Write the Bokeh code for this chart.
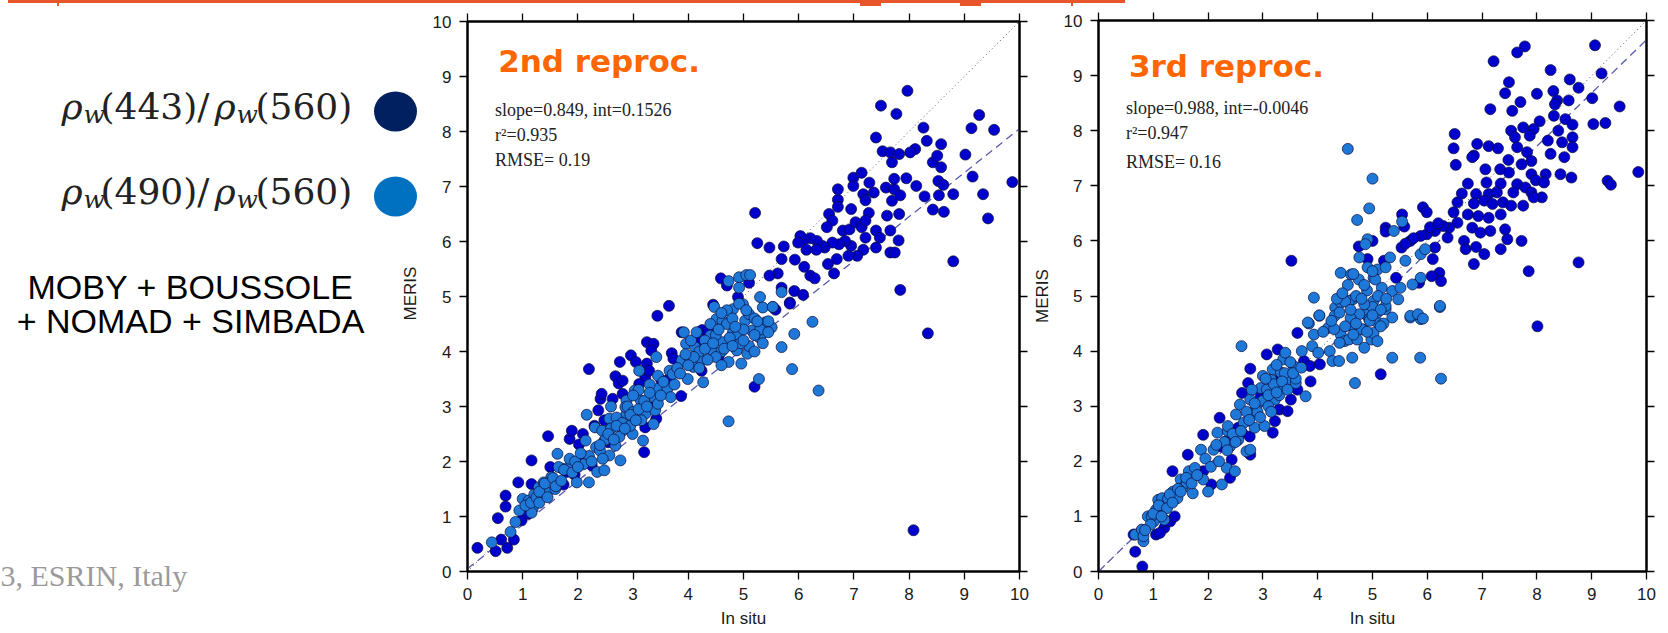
import math
from bokeh.plotting import figure
from bokeh.layouts import column, row
from bokeh.models import LinearAxis, FixedTicker, Label, Range1d, Div
from bokeh.embed import file_html
from bokeh.resources import INLINE
from bokeh.core.properties import value

# ---------------- data ----------------
ticks = list(range(0, 11))
tick_labels = [str(t) for t in ticks]
x_title = "In situ"
y_title = "MERIS"

panel_titles = ["2nd reproc.", "3rd reproc."]
stats_left = ["slope=0.849, int=0.1526", "r\u00b2=0.935", "RMSE= 0.19"]
stats_right = ["slope=0.988, int=-0.0046", "r\u00b2=0.947", "RMSE= 0.16"]

fit_left_x = [0.0, 10.0]
fit_left_y = [0.05, 8.05]
fit_right_x = [0.0, 10.0]
fit_right_y = [0.0, 9.65]
one_to_one = [0.0, 10.0]

legend_labels = [("(443)/", "(560)"), ("(490)/", "(560)")]
sites_lines = ["MOBY + BOUSSOLE", "+ NOMAD + SIMBADA"]
footer_text = "3, ESRIN, Italy"

# 2nd reprocessing: rho_w(443)/rho_w(560)
l_dark_x = [7.97, 7.49, 7.77, 7.40, 8.26, 8.32, 8.58, 9.27, 9.13, 9.54, 9.02, 9.15, 9.34, 9.43, 9.87,
            8.80, 8.80, 7.84, 8.43, 8.63, 8.28, 8.54, 8.53, 8.62, 8.43, 8.51, 8.58, 8.11, 8.02, 7.95,
            8.13, 7.52, 7.69, 7.66, 7.82, 6.99, 7.14, 7.28, 6.99, 7.17, 7.36, 7.58, 7.73, 7.69, 7.84,
            7.73, 7.21, 6.71, 6.71, 6.71, 6.95, 6.55, 6.61, 6.51, 6.80, 6.92, 7.03, 7.14, 7.27, 7.21,
            7.40, 7.47, 7.60, 7.82, 7.66, 7.81, 7.66, 7.74, 7.40, 7.21, 7.17, 7.06, 6.90, 6.95, 6.84,
            6.73, 6.61, 6.47, 6.69, 6.53, 6.64, 6.43, 6.33, 6.21, 6.10, 6.03, 5.99, 6.14, 6.32, 5.93,
            6.10, 6.21, 6.29, 5.73, 5.69, 5.47, 5.25, 5.21, 5.62, 5.47, 5.69, 5.92, 6.08, 5.84, 5.10,
            4.59, 4.90, 3.44, 3.65, 8.34, 8.08, 5.20, 3.87, 2.20, 3.20, 1.46, 1.16, 0.92, 0.69, 0.69,
            0.55, 0.18, 0.51, 0.72, 0.61, 0.84, 0.98, 1.09, 1.16, 1.74, 1.85, 1.89, 1.80, 1.94, 2.02,
            2.09, 2.25, 2.37, 2.41, 2.43, 2.48, 2.63, 2.68, 2.76, 2.74, 2.81, 2.81, 2.96, 3.05, 3.25,
            3.37, 3.33, 3.25, 3.22, 3.11, 3.29, 3.22, 3.42, 3.35, 3.51, 3.65, 3.70, 3.73, 3.88, 4.25,
            4.36, 4.18, 4.55, 4.24, 5.58, 5.84, 1.25, 1.35, 1.50, 2.10, 2.30, 2.55, 4.45, 4.70]
l_dark_y = [8.74, 8.47, 8.32, 7.89, 8.07, 7.83, 7.77, 8.30, 8.06, 8.03, 7.58, 7.18, 6.86, 6.42, 7.08,
            6.86, 5.64, 5.12, 6.58, 6.54, 6.82, 6.84, 7.10, 7.03, 7.44, 7.56, 7.35, 7.68, 7.62, 7.15,
            7.01, 7.64, 7.44, 7.62, 7.59, 7.16, 7.25, 7.07, 7.01, 6.86, 6.89, 6.98, 6.95, 6.74, 6.84,
            7.14, 6.75, 6.95, 6.76, 6.63, 6.59, 6.50, 6.38, 6.26, 6.20, 6.22, 6.35, 6.26, 6.52, 6.38,
            6.20, 6.07, 6.47, 6.50, 6.20, 6.02, 5.80, 5.80, 5.89, 6.07, 5.85, 5.74, 5.74, 5.92, 6.01,
            5.95, 5.98, 5.89, 5.68, 5.59, 5.42, 5.92, 6.01, 6.06, 6.04, 6.10, 5.98, 5.85, 5.85, 5.67,
            5.54, 5.38, 5.33, 5.91, 5.68, 5.89, 5.97, 6.52, 5.42, 5.38, 5.16, 5.10, 5.03, 4.89, 5.25,
            5.33, 4.99, 4.65, 4.83, 4.33, 0.75, 3.36, 3.19, 3.68, 2.17, 2.46, 2.02, 1.62, 1.38, 1.18,
            0.97, 0.43, 0.37, 0.43, 0.58, 0.58, 0.93, 1.05, 1.59, 1.58, 2.41, 2.56, 1.81, 1.76, 2.31,
            2.50, 1.93, 2.93, 3.14, 3.23, 2.75, 3.14, 3.55, 3.81, 3.42, 3.47, 3.23, 3.93, 3.81, 4.17,
            4.14, 4.02, 3.78, 3.53, 3.41, 3.65, 2.62, 2.78, 2.99, 3.48, 3.50, 3.97, 3.87, 4.35, 4.39,
            4.37, 4.20, 3.91, 3.65, 4.76, 4.87, 1.25, 1.55, 1.90, 2.10, 2.65, 2.35, 4.85, 5.20]

# 2nd reprocessing: rho_w(490)/rho_w(560)
l_light_x = [4.73, 4.92, 5.05, 5.12, 4.92, 5.30, 5.53, 5.69, 6.25, 5.35, 4.99, 4.81, 4.55, 0.44, 0.78,
             0.87, 0.94, 1.00, 1.18, 1.16, 1.11, 1.21, 1.29, 1.38, 1.44, 1.52, 1.59, 1.63, 1.72, 1.87,
             1.98, 2.20, 2.14, 2.16, 2.31, 2.33, 2.35, 2.48, 2.48, 2.44, 2.57, 2.57, 2.68, 2.77, 2.81,
             2.88, 2.88, 2.86, 2.99, 2.99, 3.03, 3.14, 3.22, 3.18, 3.37, 3.38, 3.40, 3.44, 3.45, 3.42,
             3.11, 3.62, 3.68, 3.66, 3.72, 3.88, 3.96, 3.92, 3.99, 4.03, 4.09, 4.27, 4.34, 4.40, 4.51,
             4.62, 4.73, 4.73, 4.81, 4.88, 4.96, 5.03, 5.07, 5.10, 5.15, 5.28, 5.28, 5.34, 5.40, 5.51,
             5.53, 5.69, 5.88, 5.92, 6.36, 4.47, 4.70, 4.92, 4.12, 4.44, 4.25, 4.62, 4.85,
             4.20, 4.30, 4.50, 4.60, 4.70, 4.90, 5.00, 5.10, 5.20, 4.40, 4.60, 4.80, 5.30, 4.10, 4.50,
             4.95, 4.35, 5.45, 5.20, 4.75, 3.80, 4.00,
             2.60, 2.70, 2.80, 2.90, 3.00, 3.10, 3.20, 2.50, 2.60, 3.30, 3.00, 2.75, 2.95, 3.15, 3.45,
             2.40, 2.20, 2.10,
             1.05, 1.15, 1.25, 1.30, 1.40, 1.55, 1.65, 1.75, 1.85, 1.95,
             1.30, 1.45, 1.60, 1.70, 1.90, 2.00, 2.05, 2.25, 2.40, 2.45, 2.55, 2.65, 2.70, 2.85, 2.95,
             3.05, 3.10, 3.25, 3.30, 3.50, 3.55, 3.75, 3.85, 3.95, 4.05, 4.15, 4.30, 4.45, 4.55, 4.65,
             4.80, 4.85, 5.00, 5.05, 5.20, 5.25, 5.35, 5.45, 4.20, 4.60]
l_light_y = [5.28, 5.35, 5.39, 5.39, 5.16, 4.99, 4.81, 5.08, 4.54, 4.80, 4.86, 4.77, 4.59, 0.53, 0.72,
             0.90, 1.11, 1.32, 1.14, 1.07, 1.29, 1.40, 1.53, 1.62, 1.44, 1.72, 1.50, 2.14, 1.87, 1.96,
             1.62, 1.62, 2.38, 2.85, 2.62, 2.26, 1.81, 1.84, 2.38, 2.56, 2.78, 2.11, 2.29, 2.02, 2.56,
             2.87, 3.11, 2.99, 2.78, 2.50, 3.29, 3.11, 2.87, 2.38, 2.68, 3.17, 2.93, 3.32, 3.56, 3.90,
             3.65, 3.32, 3.17, 3.65, 3.59, 3.84, 4.14, 4.35, 3.50, 3.81, 3.72, 3.44, 4.08, 4.29, 4.59,
             4.17, 3.81, 2.73, 4.35, 4.02, 3.78, 4.56, 3.96, 4.68, 4.38, 4.26, 3.50, 4.33, 4.53, 4.44,
             4.81, 4.08, 3.68, 4.32, 3.29, 4.81, 4.75, 4.87, 4.08, 4.02, 3.84, 4.56, 4.20,
             4.00, 4.20, 4.30, 4.00, 4.50, 4.30, 4.40, 4.10, 4.60, 4.50, 4.70, 4.60, 4.40, 3.90, 3.90,
             4.15, 3.85, 4.55, 4.00, 4.25, 3.70, 3.75,
             2.60, 2.80, 2.70, 3.00, 2.90, 3.30, 3.10, 2.40, 3.00, 3.40, 3.20, 2.45, 2.65, 2.75, 3.05,
             2.20, 2.10, 1.95,
             1.20, 1.25, 1.35, 1.45, 1.60, 1.70, 1.90, 1.85, 2.05, 2.00,
             1.25, 1.35, 1.55, 1.65, 1.80, 1.90, 2.15, 2.00, 2.30, 2.05, 2.50, 2.40, 2.65, 2.60, 2.85,
             2.75, 2.95, 3.00, 3.25, 3.20, 3.45, 3.40, 3.60, 3.95, 4.20, 4.35, 4.05, 4.15, 4.40, 4.05,
             4.10, 4.45, 4.20, 4.75, 4.30, 4.55, 4.15, 4.35, 3.70, 3.75]

# 3rd reprocessing: rho_w(443)/rho_w(560)
r_dark_x = [9.06, 7.78, 7.64, 7.21, 8.25, 9.18, 8.60, 7.49, 8.76, 7.42, 8.00, 8.30, 8.37, 7.70, 8.58,
            8.33, 9.01, 9.51, 7.15, 7.55, 8.31, 8.05, 8.52, 9.03, 9.25, 8.65, 7.75, 7.53, 7.94, 7.60,
            7.87, 6.50, 6.91, 7.12, 7.29, 6.48, 7.64, 7.82, 8.20, 8.39, 8.46, 8.65, 8.65, 6.85, 6.82,
            8.50, 8.25, 6.52, 7.48, 7.72, 7.90, 7.06, 7.33, 7.49, 7.90, 8.16, 8.43, 8.63, 7.98, 8.13,
            9.85, 9.29, 9.35, 6.74, 7.08, 7.34, 7.64, 7.79, 6.63, 6.89, 7.12, 7.27, 7.57, 7.90, 8.09,
            7.94, 6.55, 6.85, 7.04, 7.19, 7.38, 7.53, 7.75, 6.48, 6.74, 6.93, 7.12, 7.34, 6.55, 6.82,
            6.97, 7.15, 7.42, 6.40, 6.14, 6.29, 5.99, 5.88, 6.37, 6.67, 6.70, 6.89, 7.04, 6.85, 7.34,
            7.46, 7.72, 8.76, 7.85, 8.01, 5.69, 5.53, 6.14, 6.10, 6.22, 6.25, 6.08, 5.85, 5.92, 5.99,
            5.54, 5.58, 5.24, 5.24, 3.52, 4.91, 5.21, 5.43,
            0.80, 0.67, 0.64, 1.05, 1.20, 1.31, 1.39, 1.35, 1.63, 1.91, 1.91, 2.06, 2.21, 2.40, 2.43,
            2.62, 2.76, 2.77, 2.73, 2.77, 3.07, 3.27, 3.18, 3.22, 3.30, 3.45, 3.51, 3.63, 3.63, 3.75,
            3.86, 3.87, 4.04, 5.15, 2.62, 2.96, 3.33, 2.23, 2.32, 2.55, 1.03, 1.12, 1.24,
            5.60, 5.75, 6.05, 6.20, 4.75, 5.00]
r_dark_y = [9.55, 9.53, 9.42, 9.26, 9.10, 9.04, 8.93, 8.88, 8.78, 8.68, 8.67, 8.72, 8.55, 8.52, 8.55,
            8.48, 8.59, 8.44, 8.39, 8.36, 8.27, 8.17, 8.21, 8.12, 8.14, 8.11, 8.06, 8.00, 8.03, 7.88,
            7.91, 7.94, 7.76, 7.72, 7.68, 7.68, 7.70, 7.61, 7.82, 8.00, 7.79, 7.88, 7.70, 7.55, 7.52,
            7.52, 7.58, 7.38, 7.47, 7.39, 7.45, 7.30, 7.30, 7.24, 7.21, 7.21, 7.21, 7.15, 7.10, 7.06,
            7.25, 7.09, 7.02, 7.04, 7.06, 7.04, 7.03, 6.97, 6.86, 6.85, 6.85, 6.88, 6.88, 6.88, 6.79,
            6.79, 6.70, 6.68, 6.73, 6.67, 6.70, 6.64, 6.64, 6.52, 6.48, 6.45, 6.42, 6.48, 6.33, 6.24,
            6.15, 6.18, 6.21, 6.24, 6.18, 6.27, 6.12, 6.09, 6.06, 6.00, 5.85, 5.89, 5.76, 5.58, 5.85,
            6.03, 6.00, 5.61, 5.45, 4.45, 6.00, 5.88, 5.88, 5.67, 5.42, 5.27, 5.36, 5.24, 6.61, 6.52,
            6.48, 6.26, 6.24, 6.17, 5.64, 5.67, 5.64, 5.33,
            0.09, 0.36, 0.67, 0.67, 0.79, 0.91, 1.00, 1.82, 2.12, 1.82, 2.48, 1.58, 2.79, 1.70, 2.03,
            2.52, 2.45, 2.12, 3.42, 3.68, 3.94, 4.03, 2.52, 2.73, 2.94, 2.91, 3.12, 3.30, 4.33, 3.82,
            3.73, 3.45, 3.76, 3.58, 3.24, 3.18, 3.55, 2.27, 2.36, 2.61, 1.06, 0.70, 0.91,
            5.95, 6.05, 6.25, 6.32, 5.90, 6.00]

# 3rd reprocessing: rho_w(490)/rho_w(560)
r_light_x = [4.55, 5.00, 4.94, 4.72, 4.91, 4.87, 4.76, 5.39, 5.54, 5.32, 5.60, 5.88, 5.96, 5.88, 5.73,
             4.91, 5.09, 5.24, 4.42, 4.61, 5.02, 5.17, 5.36, 5.51, 5.47, 4.64, 4.57, 3.93, 6.23, 5.69,
             5.88, 4.03, 3.84, 4.32, 5.02, 5.24, 4.87,
             0.67, 0.79, 0.82, 0.82, 0.90, 1.05, 1.09, 1.16, 1.20, 1.20, 1.01, 0.97, 1.27, 1.36, 1.44,
             1.50, 1.54, 1.61, 1.72, 1.65, 1.76, 1.87, 1.91, 2.00, 2.25, 2.10, 2.17, 2.36, 2.34, 2.49,
             2.40, 2.36, 2.51, 2.58, 2.61, 2.55, 2.70, 2.77, 2.77, 2.81, 2.85, 2.88, 2.96, 3.00, 3.03,
             3.07, 3.11, 3.15, 3.18, 3.22, 3.28, 3.33, 3.37, 3.41, 3.45, 3.56, 3.60, 3.71, 3.78, 3.82,
             3.90, 3.93, 4.03, 4.01, 4.19, 4.22, 4.27, 4.31, 4.39, 4.42, 4.49, 4.57, 4.63, 4.64, 4.68,
             4.72, 4.76, 4.83, 4.85, 4.94, 4.98, 5.02, 5.09, 5.09, 5.09, 5.24, 5.36, 5.36, 5.69, 5.83,
             5.92, 5.87, 6.23, 6.25, 4.42,
             4.50, 4.70, 4.90, 5.00, 4.80, 4.60, 4.40, 5.10, 5.20, 4.30, 4.65, 4.95, 4.55, 4.75, 5.05,
             4.85, 4.35, 5.15,
             2.90, 3.00, 3.10, 3.20, 3.30, 2.80, 2.70, 3.40, 3.50, 3.60, 2.65, 3.05, 3.25, 2.45, 2.30,
             2.15,
             1.00, 1.10, 1.25, 1.30, 1.45, 1.60, 1.70, 0.95, 0.85,
             1.15, 1.35, 1.50, 1.80, 1.95, 2.05, 2.20, 2.35, 2.50, 2.60, 2.75, 2.85, 2.95, 3.10, 3.15,
             3.25, 3.35, 3.45, 3.55, 3.70, 4.10, 4.25, 4.40, 4.50, 4.60, 4.70, 4.80, 4.90, 5.00, 5.15,
             5.25, 4.45, 4.65, 4.85, 5.00]
r_light_y = [7.67, 7.13, 6.59, 6.38, 6.03, 5.94, 5.70, 6.18, 6.35, 5.70, 5.64, 5.76, 5.85, 5.33, 5.21,
             5.52, 5.48, 5.52, 5.42, 5.39, 5.33, 5.15, 5.09, 5.15, 4.94, 4.94, 4.91, 4.97, 4.80, 4.61,
             4.58, 4.64, 4.50, 4.79, 4.91, 4.76, 4.67,
             0.67, 0.76, 0.55, 0.64, 1.00, 1.12, 1.30, 1.33, 1.18, 0.94, 0.91, 1.00, 1.32, 1.45, 1.33,
             1.67, 1.52, 1.61, 1.42, 1.82, 1.88, 2.21, 1.67, 1.45, 1.58, 2.21, 2.52, 2.55, 1.88, 1.82,
             2.27, 2.64, 2.85, 3.03, 4.09, 2.39, 2.18, 2.21, 3.12, 2.88, 2.61, 3.00, 3.33, 3.55, 2.64,
             3.30, 3.12, 3.48, 3.67, 3.12, 3.33, 3.61, 3.85, 3.97, 3.45, 3.73, 3.42, 4.00, 3.18, 4.52,
             4.09, 4.30, 4.65, 3.97, 4.42, 4.00, 3.82, 4.64, 3.82, 4.30, 4.18, 4.21, 3.88, 4.45, 3.42,
             4.21, 4.67, 4.39, 4.06, 4.58, 4.21, 4.33, 4.52, 4.70, 4.18, 4.82, 4.61, 3.88, 4.64, 4.67,
             4.59, 3.88, 4.82, 3.50, 4.88,
             4.90, 5.00, 5.10, 4.80, 4.40, 4.60, 4.70, 5.00, 4.50, 4.40, 4.30, 4.55, 5.20, 5.30, 5.30,
             4.85, 4.95, 4.75,
             2.90, 3.10, 3.00, 3.40, 3.20, 3.30, 2.90, 3.60, 3.80, 3.50, 2.70, 3.50, 3.75, 2.50, 2.35,
             2.30,
             1.05, 1.20, 1.15, 1.40, 1.50, 1.70, 1.60, 0.85, 0.75,
             1.00, 1.25, 1.45, 1.75, 2.05, 1.90, 2.00, 2.20, 2.35, 2.55, 2.75, 3.05, 2.80, 3.20, 2.90,
             3.25, 3.45, 3.30, 3.60, 3.70, 4.35, 4.55, 4.15, 4.45, 4.75, 4.50, 4.95, 4.35, 4.65, 4.45,
             4.95, 5.05, 5.40, 5.20, 5.45]

# ---------------- styles ----------------
DARK = "#0000CD"
LIGHT = "#1E78D8"
EDGE = "#0b0b3a"
ORANGE = "#FF6600"
SANS = "Liberation Sans"
TXT = "#1a1a1a"


def style_axis(ax, show_labels):
    ax.ticker = FixedTicker(ticks=ticks)
    ax.major_tick_in = 0
    ax.major_tick_out = 8
    ax.minor_tick_line_color = None
    ax.major_tick_line_color = "black"
    ax.major_tick_line_width = 1.3
    ax.axis_line_color = "black"
    ax.axis_line_width = 2
    if show_labels:
        ax.major_label_overrides = {t: lab for t, lab in zip(ticks, tick_labels)}
        ax.major_label_text_font = SANS
        ax.major_label_text_font_size = "17px"
        ax.major_label_text_color = TXT
        ax.major_label_standoff = 8
        ax.axis_label_text_font = SANS
        ax.axis_label_text_font_size = "17px"
        ax.axis_label_text_font_style = "normal"
        ax.axis_label_text_color = TXT
    else:
        ax.major_label_overrides = {t: "" for t in ticks}
        ax.major_label_text_font_size = "1px"
        ax.major_label_standoff = 0


def make_panel(width, mb_left, mb_top, frame_h, ylabel, ylab_standoff,
               dx, dy, lx, ly, fx, fy, title, stats, title_y, stats_y):
    mb_right = width - mb_left - 552
    mb_bottom = 627 - mb_top - frame_h
    p = figure(width=width, height=627, x_range=Range1d(0, 10), y_range=Range1d(0, 10),
               output_backend="svg", toolbar_location=None, title_location=None,
               min_border_left=mb_left, min_border_right=mb_right,
               min_border_top=mb_top, min_border_bottom=mb_bottom)
    p.frame_align = False
    p.grid.visible = False
    p.outline_line_color = "black"
    p.outline_line_width = 2
    p.background_fill_color = "white"
    p.border_fill_color = "white"
    bottom = p.below[0]
    left_ax = p.left[0]
    top = LinearAxis()
    right_ax = LinearAxis()
    p.add_layout(top, "above")
    p.add_layout(right_ax, "right")
    style_axis(bottom, True)
    style_axis(left_ax, True)
    style_axis(top, False)
    style_axis(right_ax, False)
    bottom.axis_label = x_title
    bottom.axis_label_standoff = 6
    if ylabel:
        left_ax.axis_label = y_title
        left_ax.axis_label_standoff = ylab_standoff

    p.line(one_to_one, one_to_one, line_color="#555555", line_width=1, line_dash="1 3")
    p.line(fx, fy, line_color="#5a5aae", line_width=1.3, line_dash="8 5")
    p.scatter(dx, dy, size=11, fill_color=DARK, line_color=EDGE, line_width=0.7)
    p.scatter(lx, ly, size=11, fill_color=LIGHT, line_color=EDGE, line_width=0.7)

    p.add_layout(Label(x=0.555, y=title_y, text=title, text_font="DejaVu Sans",
                       text_font_style="bold", text_font_size="31px", text_color=ORANGE,
                       text_baseline="alphabetic"))
    for s, yy in zip(stats, stats_y):
        p.add_layout(Label(x=0.50, y=yy, text=s, text_font="Liberation Serif",
                           text_font_size="18px", text_color="#222222",
                           text_baseline="alphabetic"))
    return p


left = make_panel(609, 47, 15, 550, False, 0, l_dark_x, l_dark_y, l_light_x, l_light_y,
                  fit_left_x, fit_left_y, panel_titles[0], stats_left, 9.29, [8.39, 7.93, 7.48])
right_p = make_panel(639, 65, 14, 551, True, 9, r_dark_x, r_dark_y, r_light_x, r_light_y,
                     fit_right_x, fit_right_y, panel_titles[1], stats_right, 9.17, [8.41, 7.95, 7.44])

# ---------------- left annotation panel (data units = pixels, y up from page bottom) ----------------
INFO_W = 420
info = figure(width=INFO_W, height=627, x_range=Range1d(0, INFO_W), y_range=Range1d(0, 627),
              output_backend="svg", toolbar_location=None, x_axis_type=None, y_axis_type=None,
              title_location=None, min_border=0)
info.frame_align = False
info.grid.visible = False
info.outline_line_color = None
info.background_fill_color = "white"
info.border_fill_color = "white"


def gy(y):
    return 633 - y


row_base = [106, 191]
circle_y = [111, 196]
for (a, b), yb in zip(legend_labels, row_base):
    info.text(x=[61, 214], y=[gy(yb), gy(yb)], text=["\u03c1", "\u03c1"],
              text_font=value("DejaVu Serif"), text_font_style="italic",
              text_font_size=value("36px"), text_color="#222222",
              text_baseline="alphabetic", text_align="left")
    info.text(x=[83, 236], y=[gy(yb + 8), gy(yb + 8)], text=["w", "w"],
              text_font=value("DejaVu Serif"), text_font_style="italic",
              text_font_size=value("25px"), text_color="#222222",
              text_baseline="alphabetic", text_align="left")
    info.text(x=[100, 255], y=[gy(yb), gy(yb)], text=[a, b], text_font=value("DejaVu Serif"),
              text_font_size=value("36px"), text_color="#222222",
              text_baseline="alphabetic", text_align="left")
info.ellipse(x=[395, 395], y=[gy(c) for c in circle_y], width=43, height=40,
             fill_color=["#002060", "#0070C0"], line_color=None)
info.text(x=[190, 190], y=[gy(286), gy(320)], text=sites_lines, text_font=value(SANS),
          text_font_size=value("34px"), text_color="black", text_align="center",
          text_baseline="alphabetic")
info.text(x=[0], y=[gy(575)], text=[footer_text], text_font=value("Liberation Serif"),
          text_font_size=value("30px"), text_color="#9a9a9a", text_align="left",
          text_baseline="alphabetic")
# y-axis title of the first panel (drawn here, beside its axis)
info.text(x=[410], y=[gy(293)], text=[y_title], angle=math.pi / 2, text_font=value(SANS),
          text_font_size=value("17px"), text_color=TXT, text_align="center",
          text_baseline="middle")

# ---------------- top strip: cut-off underline of the slide title ----------------
ORANGE_LINE = "#E8552A"
strip_html = (
    '<div style="position:relative;width:1668px;height:6px;overflow:hidden;">'
    f'<div style="position:absolute;left:8px;top:0px;width:1117px;height:3px;background:{ORANGE_LINE};"></div>'
    f'<div style="position:absolute;left:57px;top:0px;width:2px;height:6px;background:{ORANGE_LINE};"></div>'
    f'<div style="position:absolute;left:1071px;top:0px;width:2px;height:6px;background:{ORANGE_LINE};"></div>'
    f'<div style="position:absolute;left:860px;top:3px;width:21px;height:3px;background:{ORANGE_LINE};"></div>'
    f'<div style="position:absolute;left:960px;top:3px;width:21px;height:3px;background:{ORANGE_LINE};"></div>'
    '</div>'
)
strip = Div(text=strip_html, width=1668, height=6, margin=0,
            styles={"overflow": "hidden", "line-height": "0"})

layout = column(strip, row(info, left, right_p, spacing=0), spacing=0)
open("out.html", "w").write(file_html(layout, INLINE))
